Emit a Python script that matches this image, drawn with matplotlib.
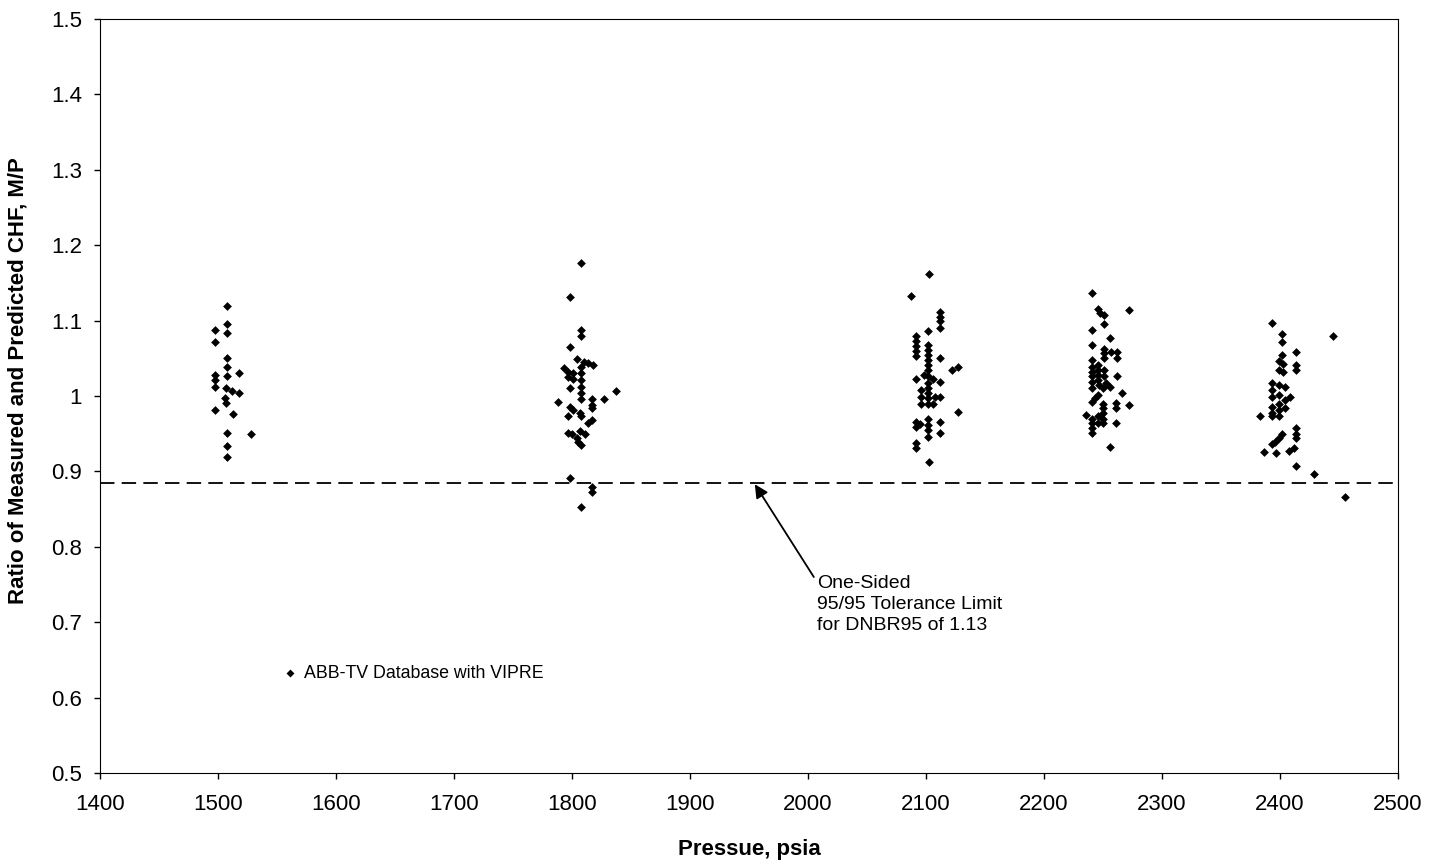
import matplotlib
matplotlib.use('Agg')
from matplotlib import pyplot as plt

plt.rcParams['font.family'] = ['Liberation Sans', 'DejaVu Sans']

# pressure (psia) and M/P ratio, one pair of lists per test group
p1500 = [1508, 1508, 1497, 1508, 1497, 1508, 1508, 1518, 1497, 1508, 1497, 1497,
         1507, 1512, 1518, 1506, 1507, 1497, 1513, 1508, 1528, 1508, 1508]
r1500 = [1.119, 1.095, 1.087, 1.083, 1.072, 1.050, 1.038, 1.030, 1.028, 1.027, 1.021, 1.012,
         1.010, 1.007, 1.004, 0.997, 0.991, 0.982, 0.976, 0.951, 0.950, 0.934, 0.919]

p1800 = [1808, 1798, 1808, 1808, 1798, 1804, 1810, 1814, 1818, 1793, 1797, 1801,
         1808, 1808, 1808, 1797, 1801, 1808, 1808, 1798, 1837, 1827, 1817, 1817,
         1817, 1808, 1788, 1798, 1801, 1797, 1807, 1808, 1817, 1814, 1797, 1800,
         1807, 1811, 1804, 1805, 1808, 1798, 1817, 1817, 1808]
r1800 = [1.177, 1.131, 1.088, 1.079, 1.065, 1.049, 1.045, 1.044, 1.041, 1.037, 1.032, 1.030,
         1.039, 1.030, 1.021, 1.025, 1.022, 1.012, 1.004, 1.010, 1.007, 0.996, 0.996, 0.988,
         0.984, 0.996, 0.992, 0.986, 0.981, 0.973, 0.977, 0.973, 0.968, 0.964, 0.951, 0.950,
         0.954, 0.950, 0.944, 0.939, 0.935, 0.891, 0.880, 0.873, 0.853]

p2100 = [2103, 2087, 2112, 2112, 2112, 2112, 2102, 2092, 2092, 2092, 2092, 2092,
         2102, 2102, 2102, 2102, 2102, 2102, 2112, 2122, 2127, 2092, 2098, 2102,
         2106, 2102, 2102, 2102, 2102, 2112, 2096, 2096, 2096, 2108, 2112, 2102,
         2106, 2127, 2102, 2102, 2102, 2092, 2095, 2092, 2112, 2112, 2102, 2092,
         2092, 2103]
r2100 = [1.162, 1.132, 1.112, 1.105, 1.099, 1.090, 1.086, 1.080, 1.073, 1.066, 1.060, 1.053,
         1.068, 1.061, 1.054, 1.048, 1.041, 1.034, 1.050, 1.034, 1.039, 1.022, 1.028, 1.026,
         1.023, 1.017, 1.010, 1.004, 0.997, 1.018, 1.008, 0.999, 0.990, 0.999, 0.999, 0.990,
         0.989, 0.979, 0.970, 0.962, 0.955, 0.966, 0.963, 0.959, 0.965, 0.951, 0.946, 0.938,
         0.931, 0.913]

p2250 = [2241, 2272, 2246, 2248, 2251, 2251, 2241, 2256, 2241, 2251, 2251, 2251,
         2257, 2262, 2262, 2241, 2241, 2241, 2241, 2241, 2246, 2246, 2246, 2246,
         2247, 2250, 2251, 2251, 2253, 2256, 2262, 2241, 2266, 2246, 2243, 2241,
         2250, 2250, 2250, 2250, 2250, 2261, 2261, 2272, 2236, 2241, 2241, 2241,
         2241, 2246, 2246, 2261, 2256]
r2250 = [1.137, 1.114, 1.115, 1.110, 1.107, 1.096, 1.088, 1.077, 1.068, 1.063, 1.057, 1.050,
         1.059, 1.059, 1.050, 1.048, 1.039, 1.032, 1.026, 1.019, 1.041, 1.034, 1.028, 1.021,
         1.015, 1.010, 1.034, 1.026, 1.017, 1.012, 1.026, 1.010, 1.004, 1.001, 0.997, 0.992,
         0.990, 0.984, 0.977, 0.970, 0.964, 0.991, 0.984, 0.988, 0.975, 0.970, 0.964, 0.957,
         0.951, 0.973, 0.964, 0.964, 0.933]

p2400 = [2393, 2402, 2402, 2445, 2414, 2402, 2399, 2403, 2399, 2403, 2414, 2414,
         2393, 2393, 2393, 2399, 2399, 2399, 2399, 2399, 2404, 2404, 2404, 2409,
         2383, 2393, 2393, 2393, 2414, 2414, 2414, 2402, 2399, 2396, 2393, 2387,
         2397, 2408, 2412, 2414, 2429, 2455]
r2400 = [1.097, 1.082, 1.072, 1.079, 1.059, 1.054, 1.046, 1.043, 1.034, 1.032, 1.041, 1.034,
         1.017, 1.008, 0.999, 1.015, 1.001, 0.990, 0.981, 0.973, 1.012, 0.995, 0.984, 0.999,
         0.973, 0.986, 0.977, 0.973, 0.957, 0.950, 0.944, 0.950, 0.944, 0.939, 0.937, 0.926,
         0.925, 0.927, 0.931, 0.907, 0.897, 0.866]

limit = 0.885

pressure = p1500 + p1800 + p2100 + p2250 + p2400
ratio = r1500 + r1800 + r2100 + r2250 + r2400

fig = plt.figure(figsize=(14.44, 8.68), dpi=100)
ax = fig.add_axes([0.0693, 0.1094, 0.8987, 0.8687])

ax.scatter(pressure, ratio, marker='D', s=20, color='black', linewidths=0,
           label='ABB-TV Database with VIPRE', zorder=3)
ax.axhline(limit, color='black', lw=1.3, dashes=(8, 4))

# arrow and note for the tolerance limit
ax.annotate('', xy=(1955, 0.883), xytext=(2005, 0.760),
            arrowprops=dict(arrowstyle='-|>', color='black', lw=1.3,
                            mutation_scale=20, shrinkA=0, shrinkB=0))
ax.text(2008, 0.762, 'One-Sided\n95/95 Tolerance Limit\nfor DNBR95 of 1.13',
        fontsize=14, ha='left', va='top', linespacing=1.3)

ax.set_xlim(1400, 2500)
ax.set_ylim(0.5, 1.5)
ax.set_xticks(range(1400, 2501, 100))
ax.set_yticks([0.5, 0.6, 0.7, 0.8, 0.9, 1.0, 1.1, 1.2, 1.3, 1.4, 1.5])
ax.set_yticklabels(['0.5', '0.6', '0.7', '0.8', '0.9', '1', '1.1', '1.2', '1.3', '1.4', '1.5'])
ax.tick_params(labelsize=16, direction='out', length=4, width=1)
ax.tick_params(axis='x', pad=11)
ax.tick_params(axis='y', pad=9)

ax.set_xlabel('Pressue, psia', fontsize=16, fontweight='bold')
ax.set_ylabel('Ratio of Measured and Predicted CHF, M/P', fontsize=16, fontweight='bold')
ax.xaxis.set_label_coords(0.5, -0.102)
ax.xaxis.label.set_va('center')
ax.yaxis.set_label_coords(-0.0635, 0.52)
ax.yaxis.label.set_va('center')

ax.legend(loc='center left', bbox_to_anchor=(0.127, 0.132), frameon=False,
          fontsize=12.8, handlelength=1.0, handletextpad=0.3, markerscale=0.9)

fig.savefig('out.png', dpi=100)
